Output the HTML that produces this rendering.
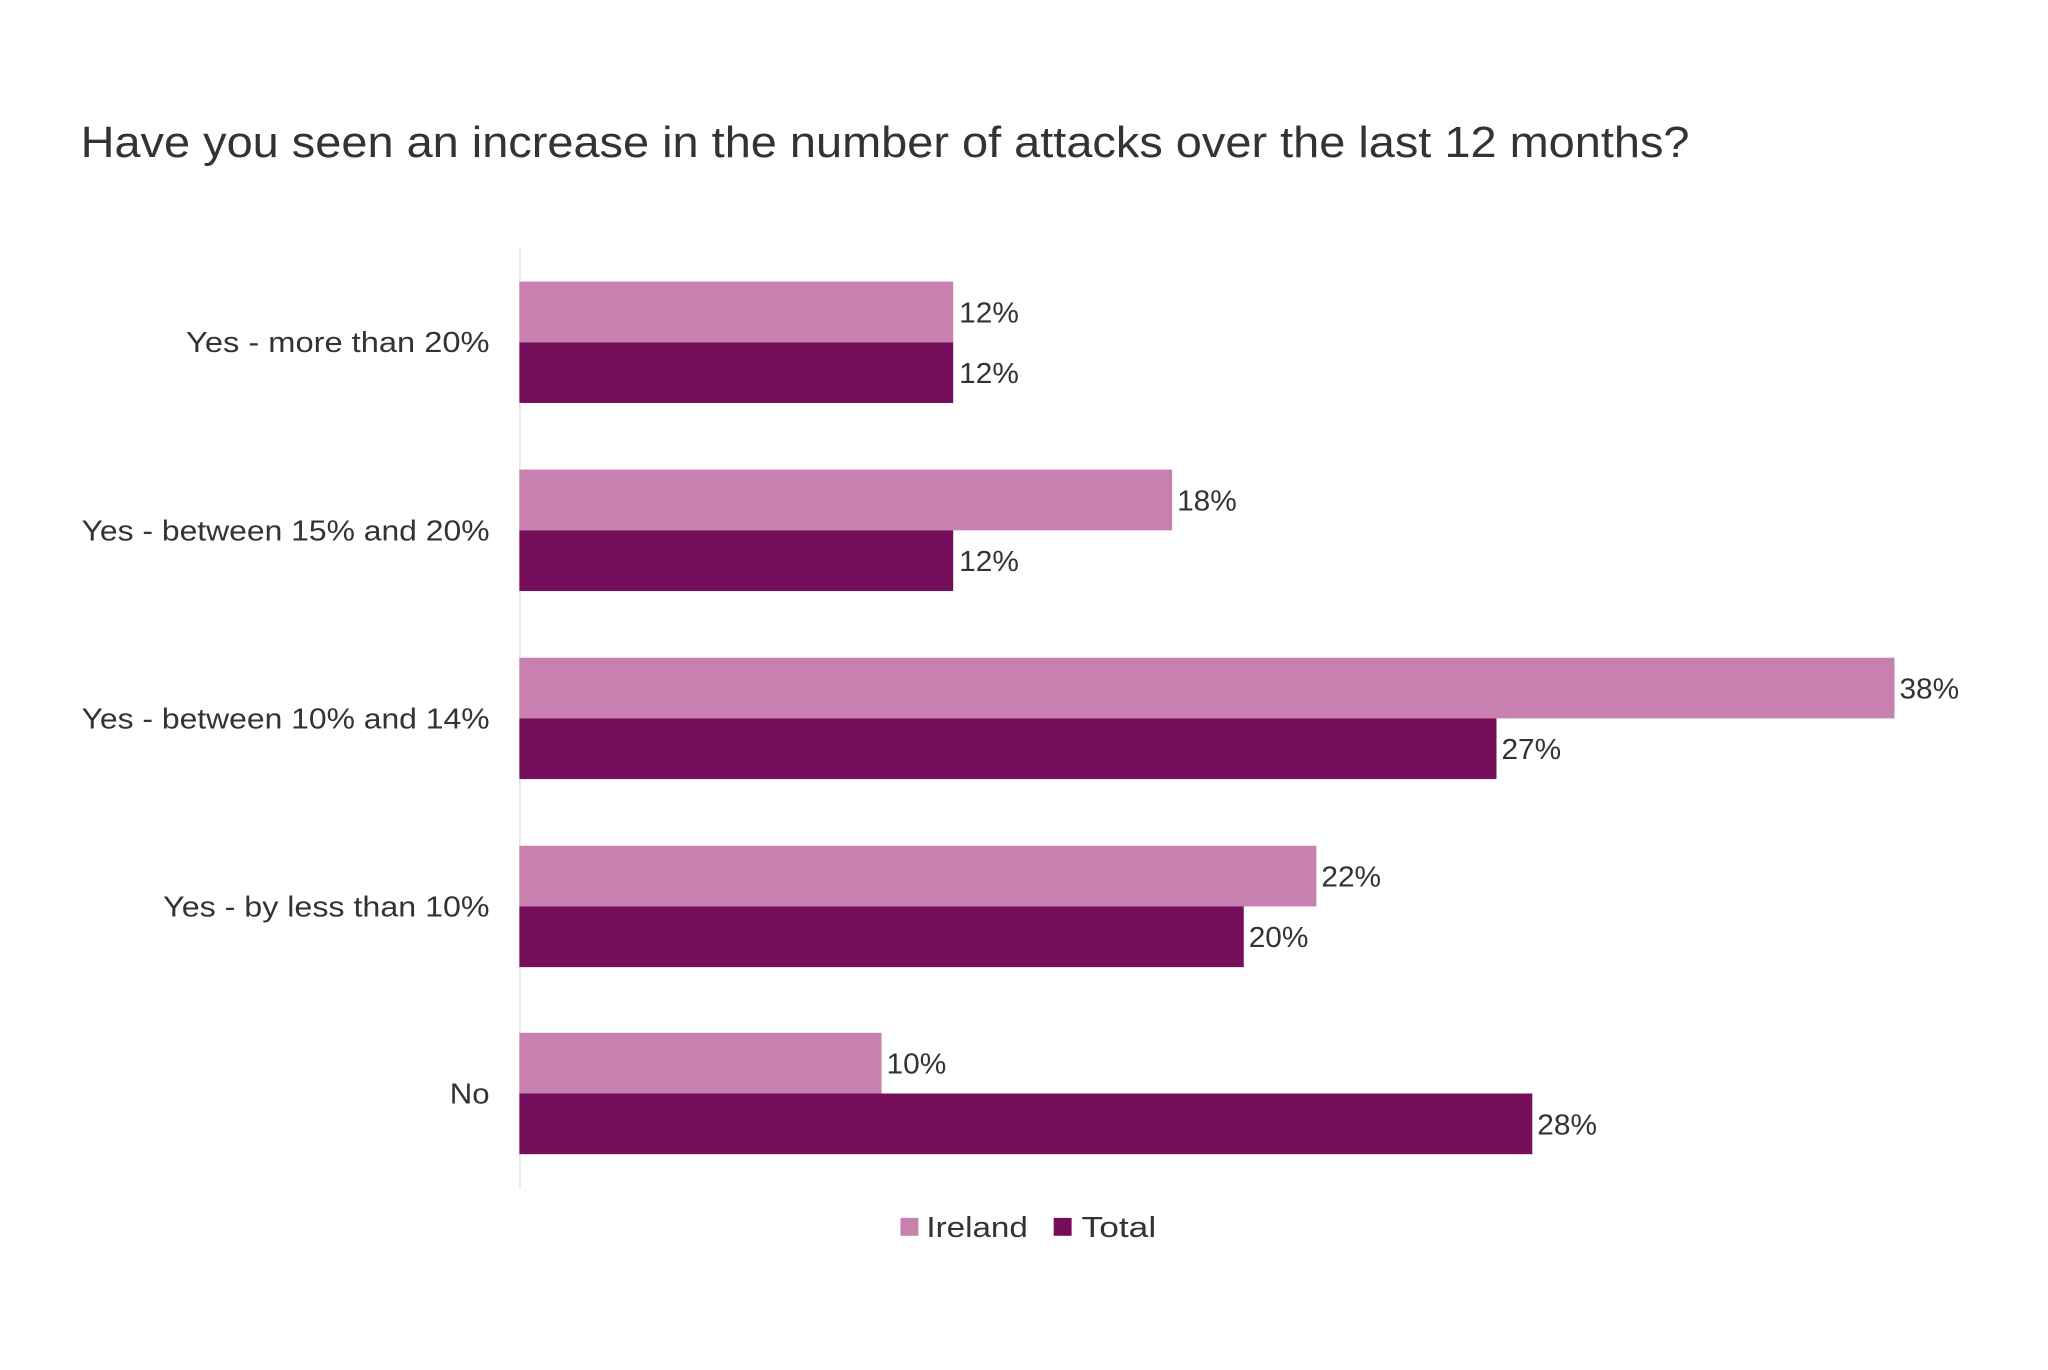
<!DOCTYPE html>
<html><head><meta charset="utf-8"><style>body{margin:0;background:#fff}</style></head>
<body>
<svg width="2048" height="1365" xmlns="http://www.w3.org/2000/svg" font-family="Liberation Sans, sans-serif" fill="#333">
<rect width="2048" height="1365" fill="#fff"/>
<g transform="scale(0.995)">
<text x="81" y="158" font-size="44" textLength="1617" lengthAdjust="spacingAndGlyphs">Have you seen an increase in the number of attacks over the last 12 months?</text>
<line x1="522.5" y1="249" x2="522.5" y2="1195" stroke="#e4e4e4" stroke-width="1.5"/>
<g font-size="29">
<rect x="522" y="283" width="436" height="61" fill="#c880ae"/>
<rect x="522" y="344" width="436" height="61" fill="#750e5b"/>
<text x="964" y="324" textLength="60" lengthAdjust="spacingAndGlyphs">12%</text>
<text x="964" y="385" textLength="60" lengthAdjust="spacingAndGlyphs">12%</text>
<text x="492" y="354" text-anchor="end" textLength="305" lengthAdjust="spacingAndGlyphs">Yes - more than 20%</text>
<rect x="522" y="472" width="656" height="61" fill="#c880ae"/>
<rect x="522" y="533" width="436" height="61" fill="#750e5b"/>
<text x="1183" y="513" textLength="60" lengthAdjust="spacingAndGlyphs">18%</text>
<text x="964" y="574" textLength="60" lengthAdjust="spacingAndGlyphs">12%</text>
<text x="492" y="543" text-anchor="end" textLength="410" lengthAdjust="spacingAndGlyphs">Yes - between 15% and 20%</text>
<rect x="522" y="661" width="1382" height="61" fill="#c880ae"/>
<rect x="522" y="722" width="982" height="61" fill="#750e5b"/>
<text x="1909" y="702" textLength="60" lengthAdjust="spacingAndGlyphs">38%</text>
<text x="1509" y="763" textLength="60" lengthAdjust="spacingAndGlyphs">27%</text>
<text x="492" y="732" text-anchor="end" textLength="410" lengthAdjust="spacingAndGlyphs">Yes - between 10% and 14%</text>
<rect x="522" y="850" width="801" height="61" fill="#c880ae"/>
<rect x="522" y="911" width="728" height="61" fill="#750e5b"/>
<text x="1328" y="891" textLength="60" lengthAdjust="spacingAndGlyphs">22%</text>
<text x="1255" y="952" textLength="60" lengthAdjust="spacingAndGlyphs">20%</text>
<text x="492" y="921" text-anchor="end" textLength="328" lengthAdjust="spacingAndGlyphs">Yes - by less than 10%</text>
<rect x="522" y="1038" width="364" height="61" fill="#c880ae"/>
<rect x="522" y="1099" width="1018" height="61" fill="#750e5b"/>
<text x="891" y="1079" textLength="60" lengthAdjust="spacingAndGlyphs">10%</text>
<text x="1545" y="1140" textLength="60" lengthAdjust="spacingAndGlyphs">28%</text>
<text x="492" y="1109" text-anchor="end" textLength="40" lengthAdjust="spacingAndGlyphs">No</text>
<rect x="905" y="1224" width="18" height="18" fill="#c880ae"/>
<text x="931" y="1243" textLength="102" lengthAdjust="spacingAndGlyphs">Ireland</text>
<rect x="1059" y="1224" width="18" height="18" fill="#750e5b"/>
<text x="1087" y="1243" textLength="75" lengthAdjust="spacingAndGlyphs">Total</text>
</g>
</g>
</svg>
</body></html>
